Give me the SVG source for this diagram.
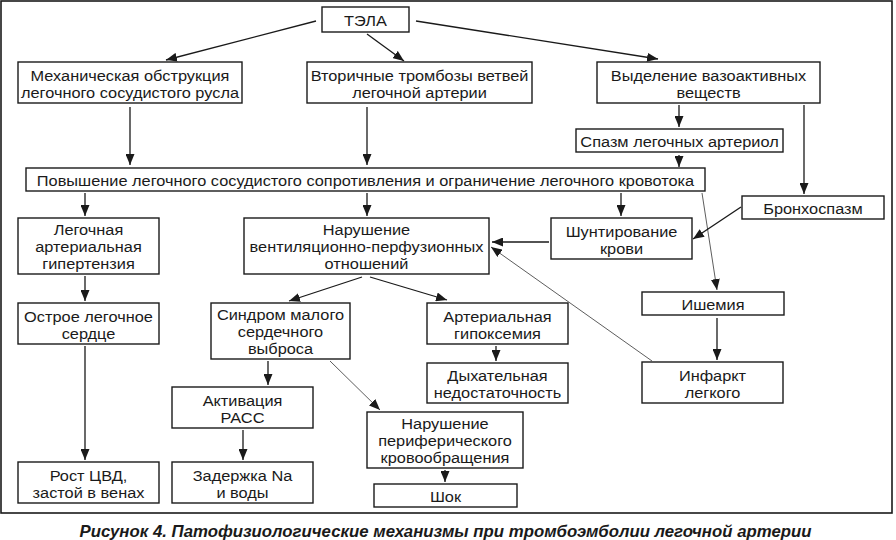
<svg xmlns="http://www.w3.org/2000/svg" width="896" height="540" viewBox="0 0 896 540">
<defs>
<marker id="ah" markerUnits="userSpaceOnUse" markerWidth="11" markerHeight="9" refX="11" refY="4.5" orient="auto">
<path d="M0,0 L11,4.5 L0,9 z" fill="#1a1a1a"/>
</marker>
</defs>
<style>
.box rect{fill:#fff;stroke:#1a1a1a;stroke-width:1.4}
.box text{font-family:"Liberation Sans",Arial,sans-serif;font-size:15px;fill:#1a1a1a;text-anchor:middle}
.c line{stroke:#1a1a1a;stroke-width:1.3;marker-end:url(#ah)}
.c line.t{stroke-width:0.8;stroke:#333}
.cap{font-family:"Liberation Sans",Arial,sans-serif;font-size:16px;font-weight:bold;font-style:italic;fill:#1a1a1a;text-anchor:middle}
</style>
<rect x="0" y="0" width="896" height="540" fill="#fff"/>
<rect x="1" y="1" width="891" height="512" fill="none" stroke="#1a1a1a" stroke-width="1.6"/>

<g class="c" id="connectors">
<line x1="316" y1="21" x2="166" y2="60"/>
<line x1="367" y1="34" x2="404" y2="61"/>
<line x1="416" y1="21" x2="658" y2="59"/>
<line x1="130" y1="107" x2="130" y2="165"/>
<line x1="367" y1="107" x2="367" y2="165"/>
<line x1="679" y1="105" x2="679" y2="127"/>
<line x1="679" y1="155" x2="679" y2="167"/>
<line x1="804" y1="105" x2="804" y2="194"/>
<line x1="85" y1="193" x2="85" y2="216"/>
<line x1="367" y1="193" x2="367" y2="216"/>
<line x1="621" y1="193" x2="621" y2="216"/>
<line class="t" x1="702" y1="193" x2="717" y2="290"/>
<line x1="741" y1="207" x2="693" y2="239"/>
<line x1="549" y1="242" x2="492" y2="242"/>
<line class="t" x1="652" y1="361" x2="491" y2="247"/>
<line x1="85" y1="276" x2="85" y2="301"/>
<line x1="85" y1="346" x2="85" y2="460"/>
<line x1="362" y1="277" x2="289" y2="301"/>
<line x1="370" y1="277" x2="447" y2="300"/>
<line x1="268" y1="361" x2="268" y2="385"/>
<line class="t" x1="330" y1="361" x2="380" y2="410"/>
<line x1="496" y1="346" x2="496" y2="361"/>
<line x1="243" y1="430" x2="243" y2="460"/>
<line x1="445" y1="470" x2="445" y2="482"/>
<line x1="717" y1="318" x2="717" y2="360"/>
</g>

<g class="box" id="tela"><rect x="322" y="7" width="87" height="25"/><text transform="translate(365.5,26) scale(1.09,1)">ТЭЛА</text></g>
<g class="box" id="mech"><rect x="18" y="62" width="224" height="41"/><text transform="translate(130,81) scale(1.09,1)">Механическая обструкция</text><text transform="translate(130,98) scale(1.09,1)">легочного сосудистого русла</text></g>
<g class="box" id="vtor"><rect x="307" y="62" width="225" height="41"/><text transform="translate(419.5,81) scale(1.09,1)">Вторичные тромбозы ветвей</text><text transform="translate(419.5,98) scale(1.09,1)">легочной артерии</text></g>
<g class="box" id="vydel"><rect x="597" y="62" width="223" height="41"/><text transform="translate(708.5,81) scale(1.09,1)">Выделение вазоактивных</text><text transform="translate(708.5,98) scale(1.09,1)">веществ</text></g>
<g class="box" id="spazm"><rect x="576" y="129" width="207" height="23"/><text transform="translate(679.5,147) scale(1.09,1)">Спазм легочных артериол</text></g>
<g class="box" id="povysh"><rect x="26" y="168" width="679" height="23"/><text transform="translate(365.5,186) scale(1.09,1)">Повышение легочного сосудистого сопротивления и ограничение легочного кровотока</text></g>
<g class="box" id="bronch"><rect x="742" y="196" width="142" height="23"/><text transform="translate(813,214) scale(1.09,1)">Бронхоспазм</text></g>
<g class="box" id="lag"><rect x="18" y="218" width="141" height="56"/><text transform="translate(88.5,235) scale(1.09,1)">Легочная</text><text transform="translate(88.5,252) scale(1.09,1)">артериальная</text><text transform="translate(88.5,269) scale(1.09,1)">гипертензия</text></g>
<g class="box" id="nvp"><rect x="244" y="218" width="245" height="56"/><text transform="translate(366.5,235) scale(1.09,1)">Нарушение</text><text transform="translate(366.5,252) scale(1.09,1)">вентиляционно-перфузионных</text><text transform="translate(366.5,269) scale(1.09,1)">отношений</text></g>
<g class="box" id="shunt"><rect x="551" y="218" width="141" height="41"/><text transform="translate(621.5,237) scale(1.09,1)">Шунтирование</text><text transform="translate(621.5,254) scale(1.09,1)">крови</text></g>
<g class="box" id="ols"><rect x="18" y="303" width="141" height="41"/><text transform="translate(88.5,322) scale(1.09,1)">Острое легочное</text><text transform="translate(88.5,339) scale(1.09,1)">сердце</text></g>
<g class="box" id="smsv"><rect x="211" y="303" width="139" height="56"/><text transform="translate(280.5,320) scale(1.09,1)">Синдром малого</text><text transform="translate(280.5,337) scale(1.09,1)">сердечного</text><text transform="translate(280.5,354) scale(1.09,1)">выброса</text></g>
<g class="box" id="ag"><rect x="427" y="303" width="141" height="41"/><text transform="translate(497.5,322) scale(1.09,1)">Артериальная</text><text transform="translate(497.5,339) scale(1.09,1)">гипоксемия</text></g>
<g class="box" id="ishem"><rect x="642" y="292" width="142" height="23"/><text transform="translate(713,310) scale(1.09,1)">Ишемия</text></g>
<g class="box" id="dn"><rect x="427" y="363" width="141" height="40"/><text transform="translate(497.5,381) scale(1.09,1)">Дыхательная</text><text transform="translate(497.5,398) scale(1.09,1)">недостаточность</text></g>
<g class="box" id="infarkt"><rect x="642" y="362" width="141" height="41"/><text transform="translate(712.5,381) scale(1.09,1)">Инфаркт</text><text transform="translate(712.5,398) scale(1.09,1)">легкого</text></g>
<g class="box" id="rass"><rect x="172" y="387" width="141" height="41"/><text transform="translate(242.5,406) scale(1.09,1)">Активация</text><text transform="translate(242.5,423) scale(1.09,1)">РАСС</text></g>
<g class="box" id="npk"><rect x="367" y="412" width="156" height="56"/><text transform="translate(445,429) scale(1.09,1)">Нарушение</text><text transform="translate(445,446) scale(1.09,1)">периферического</text><text transform="translate(445,463) scale(1.09,1)">кровообращения</text></g>
<g class="box" id="shok"><rect x="374" y="484" width="143" height="23"/><text transform="translate(445.5,502) scale(1.09,1)">Шок</text></g>
<g class="box" id="cvd"><rect x="18" y="462" width="141" height="41"/><text transform="translate(88.5,481) scale(1.09,1)">Рост ЦВД,</text><text transform="translate(88.5,498) scale(1.09,1)">застой в венах</text></g>
<g class="box" id="na"><rect x="172" y="462" width="141" height="41"/><text transform="translate(242.5,481) scale(1.09,1)">Задержка Na</text><text transform="translate(242.5,498) scale(1.09,1)">и воды</text></g>

<text class="cap" transform="translate(445.5,537) scale(1.05,1)">Рисунок 4. Патофизиологические механизмы при тромбоэмболии легочной артерии</text>
</svg>
